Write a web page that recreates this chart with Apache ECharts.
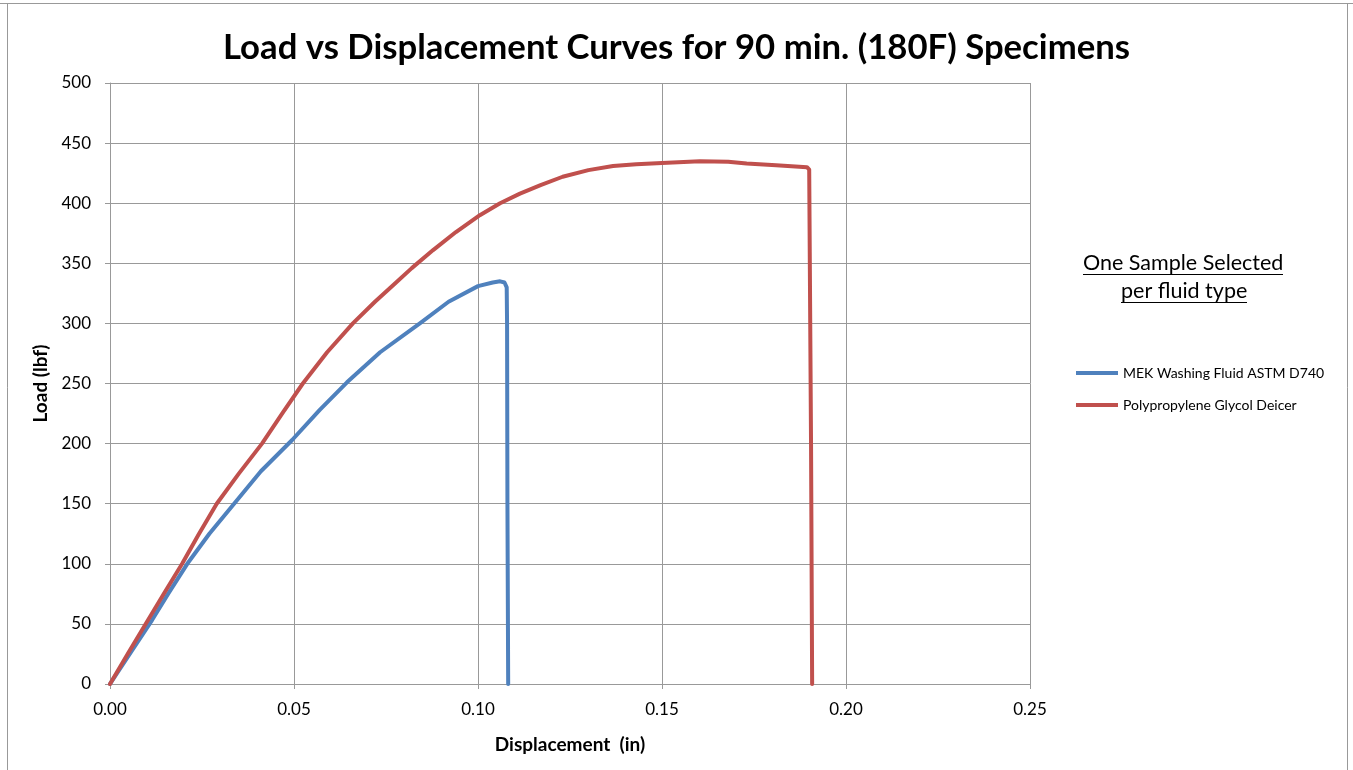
<!DOCTYPE html>
<html>
<head>
<meta charset="utf-8">
<title>Load vs Displacement</title>
<script src="https://cdn.jsdelivr.net/npm/echarts@6/dist/echarts.min.js"></script>
<style>
  html, body { margin: 0; padding: 0; background: #fff; }
  #chart { width: 1353px; height: 770px; }
</style>
</head>
<body>
<div id="chart"></div>
<script>
// MEK Washing Fluid ASTM D740
var mekDisp = [0, 0.006, 0.0114, 0.016, 0.021, 0.027, 0.034, 0.041, 0.0495, 0.057, 0.0644, 0.0734, 0.0842, 0.092, 0.100, 0.104, 0.106, 0.1072, 0.1078, 0.1079, 0.108, 0.1082];
var mekLoad = [0, 28, 53, 76, 100, 125, 151, 177, 203, 228, 251, 276, 300, 318, 331, 334, 335, 334, 330, 300, 150, 0];
// Polypropylene Glycol Deicer
var pgdDisp = [0, 0.005, 0.0103, 0.015, 0.0196, 0.024, 0.029, 0.035, 0.0413, 0.047, 0.0524, 0.059, 0.066, 0.072, 0.077, 0.082, 0.0878, 0.094, 0.1005, 0.106, 0.1114, 0.117, 0.123, 0.130, 0.1367, 0.143, 0.150, 0.1603, 0.168, 0.173, 0.181, 0.1894, 0.190, 0.1905, 0.1908];
var pgdLoad = [0, 26, 53, 77, 100, 124, 150, 175, 200, 226, 250, 276, 300, 318, 332, 346, 361, 376, 390, 400, 408, 415, 422, 427.5, 431, 432.5, 433.5, 435, 434.5, 433, 431.5, 430, 428, 200, 0];

var seriesNames = ['MEK Washing Fluid ASTM D740', 'Polypropylene Glycol Deicer'];
var seriesColors = ['#4F81BD', '#C0504D'];

function pairs(xs, ys) {
  var out = [];
  for (var i = 0; i < xs.length; i++) out.push([xs[i], ys[i]]);
  return out;
}

var font = 'Lato';
var chart = echarts.init(document.getElementById('chart'));

var option = {
  animation: false,
  backgroundColor: '#fff',
  textStyle: { fontFamily: font },
  title: {
    text: 'Load vs Displacement Curves for 90 min. (180F) Specimens',
    left: 'center',
    top: 25,
    textStyle: { fontFamily: font, fontSize: 34.7, fontWeight: 'bold', color: '#000' }
  },
  legend: {
    orient: 'vertical',
    left: 1071,
    top: 361,
    itemWidth: 42,
    itemHeight: 4,
    itemGap: 18,
    icon: 'rect',
    data: seriesNames,
    textStyle: { fontFamily: font, fontSize: 14, color: '#000' }
  },
  grid: { left: 110, right: 323, top: 83, bottom: 86 },
  xAxis: {
    type: 'value',
    min: 0,
    max: 0.25,
    interval: 0.05,
    name: 'Displacement  (in)',
    nameLocation: 'middle',
    nameGap: 51,
    nameTextStyle: { fontFamily: font, fontSize: 19, fontWeight: 'bold', color: '#000' },
    axisLine: { show: true, lineStyle: { color: '#999', width: 1 } },
    axisTick: { show: true, length: 5, lineStyle: { color: '#999' } },
    axisLabel: {
      margin: 17,
      fontSize: 17,
      color: '#000',
      formatter: function (v) { return v.toFixed(2); }
    },
    splitLine: { show: true, lineStyle: { color: '#999', width: 1 } }
  },
  yAxis: {
    type: 'value',
    min: 0,
    max: 500,
    interval: 50,
    name: 'Load (lbf)',
    nameLocation: 'middle',
    nameGap: 57,
    nameTextStyle: { fontFamily: font, fontSize: 19, fontWeight: 'bold', color: '#000' },
    axisLine: { show: true, lineStyle: { color: '#999', width: 1 } },
    axisTick: { show: true, length: 5, lineStyle: { color: '#999' } },
    axisLabel: { margin: 19, fontSize: 17, color: '#000' },
    splitLine: { show: true, lineStyle: { color: '#999', width: 1 } }
  },
  graphic: [
    { type: 'line', shape: { x1: 0, y1: 3.5, x2: 1353, y2: 3.5 }, style: { stroke: '#999', lineWidth: 1 }, silent: true },
    { type: 'rect', shape: { x: 7.5, y: 3.5, width: 1340, height: 780 }, style: { fill: null, stroke: '#999', lineWidth: 1 }, silent: true },
    {
      type: 'text', left: 1083, top: 252,
      style: { text: 'One Sample Selected', font: '21.5px ' + font, fill: '#000' }
    },
    { type: 'line', shape: { x1: 1083, y1: 274.5, x2: 1283, y2: 274.5 }, style: { stroke: '#000', lineWidth: 1 } },
    {
      type: 'text', left: 1121, top: 280,
      style: { text: 'per fluid type', font: '21.5px ' + font, fill: '#000' }
    },
    { type: 'line', shape: { x1: 1121, y1: 302.5, x2: 1247, y2: 302.5 }, style: { stroke: '#000', lineWidth: 1 } }
  ],
  series: [
    {
      name: seriesNames[0],
      type: 'line',
      showSymbol: false,
      color: seriesColors[0],
      lineStyle: { width: 4, color: seriesColors[0], join: 'round', cap: 'round' },
      data: pairs(mekDisp, mekLoad)
    },
    {
      name: seriesNames[1],
      type: 'line',
      showSymbol: false,
      color: seriesColors[1],
      lineStyle: { width: 4, color: seriesColors[1], join: 'round', cap: 'round' },
      data: pairs(pgdDisp, pgdLoad)
    }
  ]
};

chart.setOption(option);
window.addEventListener('resize', function () { chart.resize(); });
</script>
</body>
</html>
